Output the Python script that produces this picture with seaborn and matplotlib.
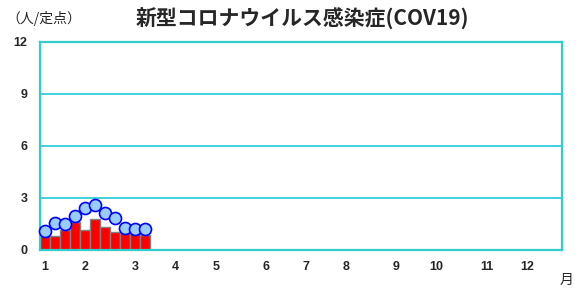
import numpy as np
import pandas as pd
import seaborn as sns
from matplotlib import pyplot as plt

# 週ごとの定点当たり報告数（今シーズン：棒、比較：丸）
weeks = list(range(1, 12))
current = [0.79, 0.79, 1.14, 1.63, 1.17, 1.78, 1.31, 1.06, 1.06, 1.02, 0.87]
previous = [1.11, 1.56, 1.50, 1.94, 2.40, 2.62, 2.12, 1.83, 1.29, 1.21, 1.19]

month_weeks = [1, 5, 10, 14, 18, 23, 27, 31, 36, 40, 45, 49]
month_labels = ['1', '2', '3', '4', '5', '6', '7', '8', '9', '10', '11', '12']
y_ticks = [0, 3, 6, 9, 12]

sns.set_style('white')
plt.rcParams['font.family'] = ['Noto Sans CJK JP', 'DejaVu Sans']

df = pd.DataFrame({'week': weeks, 'current': current, 'previous': previous})

fig = plt.figure(figsize=(5.81, 2.96), dpi=100)
ax = fig.add_axes([40 / 581, 46 / 296, 522 / 581, 208 / 296])

sns.barplot(data=df, x='week', y='current', native_scale=True, width=1,
            color='#ff0000', edgecolor='#808080', linewidth=1,
            saturation=1, ax=ax, zorder=2)
sns.scatterplot(data=df, x='week', y='previous', s=75, color='#99ccff',
                edgecolor='#0000ff', linewidth=1.2, ax=ax, zorder=3,
                clip_on=False)

ax.set_xlim(0.5, 52.5)
ax.set_ylim(0, 12)
ax.set_yticks(y_ticks)
ax.set_yticklabels([str(t) for t in y_ticks], fontweight='bold', fontsize=9,
                   family=['Liberation Sans', 'DejaVu Sans'])
ax.set_xticks(month_weeks)
ax.set_xticklabels(month_labels, fontweight='bold', fontsize=9,
                   family=['Liberation Sans', 'DejaVu Sans'])
ax.tick_params(axis='x', length=0, pad=8)
ax.tick_params(axis='y', length=0, pad=9)
ax.set_xlabel('')
ax.set_ylabel('')

for y in [3, 6, 9]:
    ax.axhline(y, color='#22c8d8', linewidth=1.2, zorder=1)
for s in ax.spines.values():
    s.set_visible(True)
    s.set_color('#33cccc')
    s.set_linewidth(1.6)

fig.text(302 / 581, 1 - 19 / 296, '新型コロナウイルス感染症(COV19)',
         ha='center', va='center', fontsize=15, fontweight='bold')
fig.text(6 / 581, 1 - 19 / 296, '（人/定点）', ha='left', va='center',
         fontsize=10)
fig.text(567 / 581, 1 - 280 / 296, '月', ha='center', va='center',
         fontsize=10)

fig.savefig('out.png', dpi=100)
